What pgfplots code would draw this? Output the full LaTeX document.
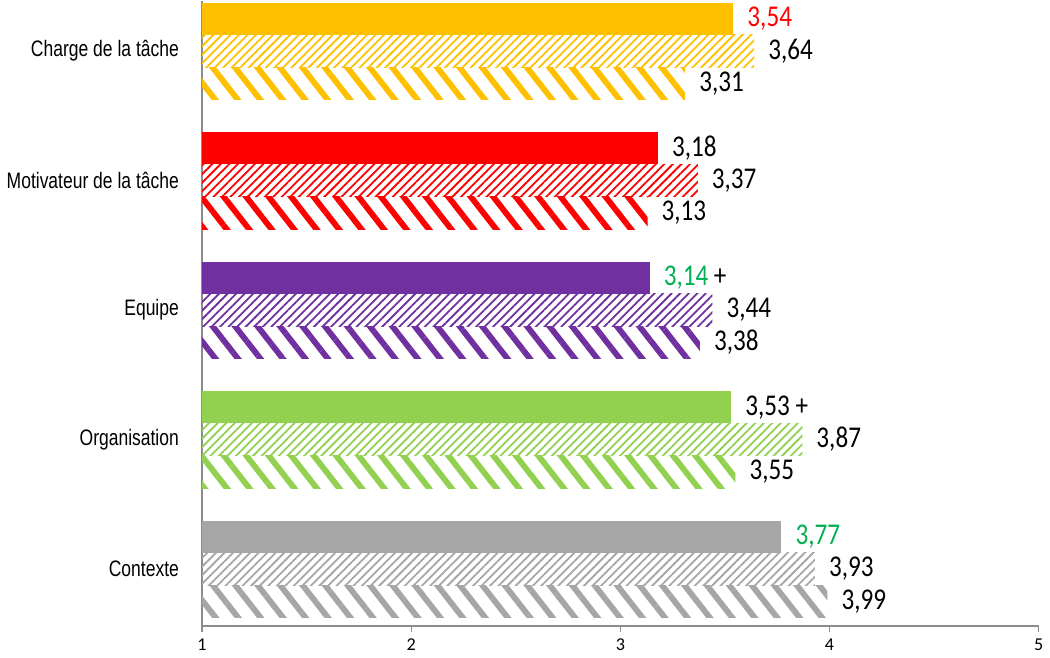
\documentclass[border=0pt]{standalone}
\usepackage{graphicx}
\usepackage{pgfplots}
\pgfplotsset{compat=1.18}
\usepackage{fontspec}
\setmainfont{Carlito}
\newfontfamily\arial{Liberation Sans}
\usetikzlibrary{patterns.meta}

\definecolor{cCharge}{HTML}{FFC000}
\definecolor{cMotiv}{HTML}{FF0000}
\definecolor{cEquipe}{HTML}{7030A0}
\definecolor{cOrga}{HTML}{92D050}
\definecolor{cCtx}{HTML}{A6A6A6}
\definecolor{cGreenTxt}{HTML}{00B050}

% solid / fine hatch / wide hatch
\tikzset{
  hsolid/.style={fill=#1, draw=none},
  hfine/.style={draw=none, pattern={Lines[angle=45,distance=3pt,line width=0.9pt]}, pattern color=#1},
  hwide/.style={draw=none, pattern={Lines[angle=-52,distance=8.8pt,line width=2.9pt]}, pattern color=#1},
}
\newcommand{\vs}[1]{\scalebox{1}[1.2]{#1}}
\newcommand{\cat}[1]{\scalebox{1}[1.28]{\arial\fontsize{8.7}{10}\selectfont #1}}

\begin{document}
\begin{tikzpicture}
  \begin{axis}[
      xbar, bar width=0.25, bar shift=0pt,
      scale only axis, width=416pt, height=311pt,
      xmin=1, xmax=5, ymin=-0.44, ymax=4.39,
      xtick={1,...,5}, ytick={0,...,4},
      yticklabels={\cat{Contexte},\cat{Organisation},\cat{Equipe},
                   \cat{Motivateur de la tâche},\cat{Charge de la tâche}},
      axis x line*=bottom, axis y line*=left,
      axis line style={draw=black!45, line width=0.6pt},
      x tick style={draw=black!45, line width=0.6pt},
      y tick style={draw=none},
      tick align=outside, major tick length=3pt,
      /pgf/number format/assume math mode=true,
      xticklabel style={font=\fontsize{9}{10}\selectfont},
      yticklabel style={xshift=-5pt},
      point meta=explicit symbolic,
      nodes near coords={\vs{\pgfplotspointmeta}},
      nodes near coords style={anchor=west, xshift=3.5pt, font=\fontsize{12.5}{13}\selectfont, text=black},
      clip=false,
  ]
    % Charge de la tâche
    \addplot[hsolid=cCharge] coordinates {(3.54,4.25) [{\textcolor{red}{3,54}}]};
    \addplot[hfine=cCharge]  coordinates {(3.64,4.00) [3,64]};
    \addplot[hwide=cCharge]  coordinates {(3.31,3.75) [3,31]};
    % Motivateur de la tâche
    \addplot[hsolid=cMotiv] coordinates {(3.18,3.25) [3,18]};
    \addplot[hfine=cMotiv]  coordinates {(3.37,3.00) [3,37]};
    \addplot[hwide=cMotiv]  coordinates {(3.13,2.75) [3,13]};
    % Equipe
    \addplot[hsolid=cEquipe] coordinates {(3.14,2.25) [{\textcolor{cGreenTxt}{3,14} +}]};
    \addplot[hfine=cEquipe]  coordinates {(3.44,2.00) [3,44]};
    \addplot[hwide=cEquipe]  coordinates {(3.38,1.75) [3,38]};
    % Organisation
    \addplot[hsolid=cOrga] coordinates {(3.53,1.25) [3,53 +]};
    \addplot[hfine=cOrga]  coordinates {(3.87,1.00) [3,87]};
    \addplot[hwide=cOrga]  coordinates {(3.55,0.75) [3,55]};
    % Contexte
    \addplot[hsolid=cCtx] coordinates {(3.77,0.25) [{\textcolor{cGreenTxt}{3,77}}]};
    \addplot[hfine=cCtx]  coordinates {(3.93,0.00) [3,93]};
    \addplot[hwide=cCtx]  coordinates {(3.99,-0.25) [3,99]};
  \end{axis}
\end{tikzpicture}
\end{document}
